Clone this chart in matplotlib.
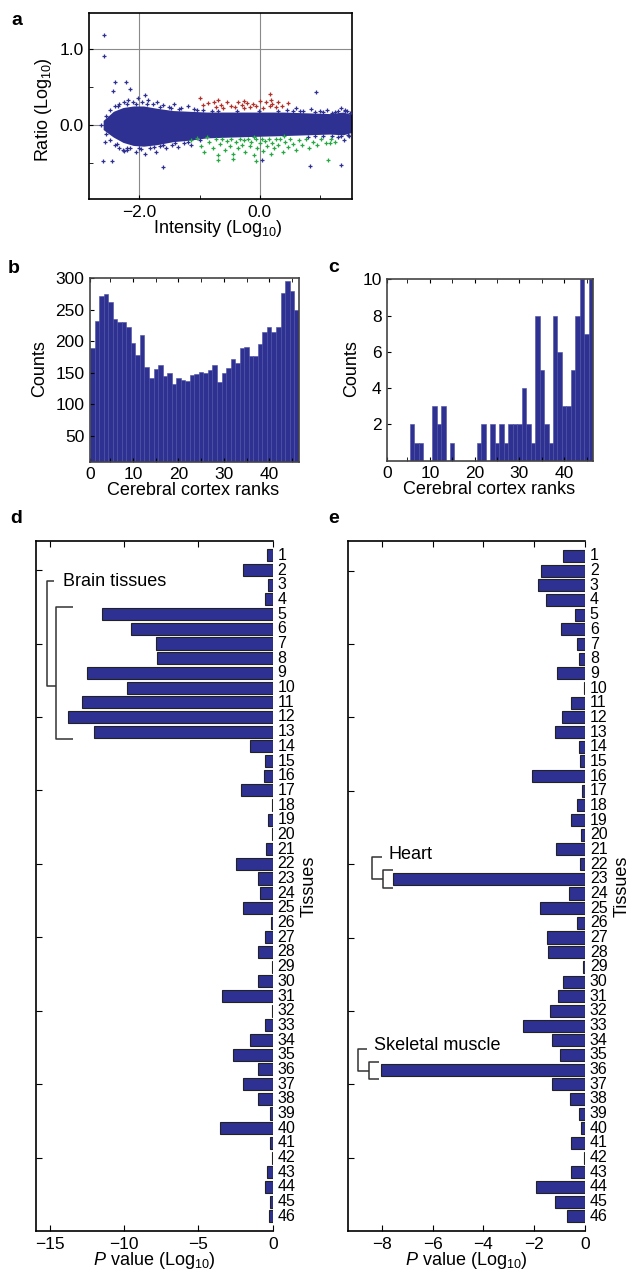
import matplotlib.pyplot as plt

plt.rcParams['font.family'] = ['Liberation Sans', 'DejaVu Sans']
plt.rcParams['mathtext.fontset'] = 'custom'
plt.rcParams['mathtext.rm'] = 'Liberation Sans'
plt.rcParams['mathtext.it'] = 'Liberation Sans:italic'
plt.rcParams['axes.linewidth'] = 1.2

NAVY = '#2e3192'
RED = '#b2322b'
GREEN = '#27a845'
INK = '#222222'

# ---------------- panel a: intensity / ratio cloud ----------------
core_x = [-2.6, -2.5, -2.43, -2.27, -2.1, -1.93, -1.71, -1.44, -1.16, -0.88, -0.5, -0.06, 0.39, 0.77, 1.16, 1.38, 1.52]
core_hi = [0.06, 0.13, 0.18, 0.23, 0.25, 0.25, 0.22, 0.19, 0.18, 0.17, 0.17, 0.17, 0.17, 0.16, 0.15, 0.17, 0.14]
core_lo = [-0.06, -0.12, -0.16, -0.23, -0.27, -0.28, -0.26, -0.22, -0.2, -0.17, -0.16, -0.15, -0.14, -0.13, -0.12, -0.13, -0.1]

fringe_x = [-2.55, -2.48, -2.4, -2.33, -2.25, -2.18, -2.1, -2.02, -1.95, -1.85, -1.78, -1.7, -1.6, -1.5,
            -1.42, -1.3, -1.2, -1.1, -0.95, -0.8, 0.45, 0.6, 0.72, 0.85, 1.0, 1.12, 1.25, 1.35, 1.45,
            -2.55, -2.48, -2.4, -2.33, -2.25, -2.15, -2.05, -1.98, -1.9, -1.82, -1.72, -1.65, -1.55,
            -1.45, -1.35, -1.25, -1.15, 1.3, 1.4, 1.48,
            -2.36, -2.2, -2.05, -1.88, -1.66, -1.48, -1.34, -1.04, -0.7, -0.38, -0.02, 0.3, 0.55, 0.66,
            0.92, 1.05, 1.2, 1.3, 1.42, 1.5,
            -2.37, -2.2, -2.0, -1.76, -1.6, -1.4, -1.2, -1.0, 0.8, 0.92, 1.05, 1.2, 1.34, 1.46]
fringe_y = [0.12, 0.2, 0.25, 0.28, 0.3, 0.33, 0.3, 0.36, 0.3, 0.33, 0.27, 0.3, 0.26, 0.24,
            0.28, 0.22, 0.25, 0.21, 0.2, 0.19, 0.2, 0.22, 0.19, 0.21, 0.18, 0.2, 0.17, 0.22, 0.18,
            -0.12, -0.2, -0.27, -0.3, -0.34, -0.3, -0.36, -0.32, -0.38, -0.3, -0.35, -0.28, -0.3,
            -0.26, -0.29, -0.24, -0.27, -0.16, -0.2, -0.15,
            0.25, 0.27, 0.28, 0.27, 0.24, 0.22, 0.21, 0.2, 0.19, 0.19, 0.19, 0.19, 0.18, 0.18,
            0.17, 0.17, 0.16, 0.18, 0.19, 0.16,
            -0.25, -0.3, -0.31, -0.29, -0.26, -0.24, -0.23, -0.2, -0.16, -0.15, -0.15, -0.14, -0.15, -0.13]

outlier_x = [-2.58, -2.59, -2.4, -2.44, -2.22, -2.16, -1.91, 0.94, -2.63, -2.57, -2.27, -2.6, -2.46,
             -1.6, 0.03, 0.83, 1.35, 1.41, -2.21]
outlier_y = [1.18, 0.91, 0.56, 0.45, 0.56, 0.47, 0.4, 0.44, 0.0, -0.22, -0.33, -0.48, -0.48,
             -0.55, -0.46, -0.54, -0.53, 0.2, -0.33]

up_x = [-0.94, -0.86, -0.76, -0.72, -0.65, -0.61, -0.55, -0.47, -0.41, -0.36, -0.3, -0.26, -0.22, -0.17,
        -0.11, -0.06, 0.0, 0.05, 0.11, 0.17, 0.21, 0.27, 0.3, 0.36, -0.69, -0.27, 0.19, 0.47, 0.17, -1.0]
up_y = [0.26, 0.29, 0.3, 0.24, 0.26, 0.22, 0.3, 0.25, 0.24, 0.3, 0.26, 0.22, 0.29, 0.24,
        0.28, 0.25, 0.31, 0.22, 0.3, 0.25, 0.28, 0.24, 0.3, 0.25, 0.33, 0.32, 0.33, 0.29, 0.41, 0.36]

down_x = [-0.98, -0.92, -0.85, -0.78, -0.72, -0.7, -0.66, -0.62, -0.58, -0.55, -0.5, -0.47, -0.44, -0.4,
          -0.36, -0.33, -0.3, -0.27, -0.24, -0.2, -0.17, -0.14, -0.1, -0.07, -0.04, 0.0, 0.03, 0.06,
          0.09, 0.12, 0.15, 0.18, 0.21, 0.24, 0.27, 0.3, 0.34, 0.38, 0.42, 0.46, 0.5, 0.55, 0.6, 0.65,
          0.7, 0.76, 0.82, 0.88, 0.95, 1.02, 1.1, 1.18, 1.25, -1.15, -1.05, -0.88, -0.1, 0.4,
          -0.69, -0.44, -0.07, 1.13, 1.16]
down_y = [-0.28, -0.36, -0.22, -0.3, -0.18, -0.4, -0.25, -0.18, -0.33, -0.21, -0.28, -0.19, -0.38, -0.23,
          -0.31, -0.18, -0.26, -0.2, -0.35, -0.19, -0.28, -0.22, -0.4, -0.19, -0.3, -0.24, -0.18, -0.34,
          -0.21, -0.28, -0.18, -0.38, -0.24, -0.31, -0.19, -0.27, -0.18, -0.35, -0.22, -0.29, -0.18, -0.25,
          -0.33, -0.2, -0.27, -0.18, -0.3, -0.22, -0.26, -0.19, -0.24, -0.18, -0.22, -0.2, -0.17, -0.16,
          -0.16, -0.15, -0.46, -0.45, -0.48, -0.46, -0.24]

# ---------------- panels b, c: rank histograms ----------------
ranks = list(range(1, 47))
all_counts = [189, 233, 272, 275, 262, 235, 230, 231, 222, 197, 178, 210, 159, 142, 156, 162, 145, 149,
              132, 142, 139, 137, 146, 148, 151, 149, 154, 163, 136, 150, 158, 172, 165, 189, 191, 176,
              177, 196, 215, 223, 215, 223, 277, 296, 280, 249]
sig_counts = [0, 0, 0, 0, 0, 2, 1, 1, 0, 0, 3, 2, 3, 0, 1, 0, 0, 0, 0, 0, 1, 2, 0, 2, 1, 2, 1, 2, 2, 2,
              4, 2, 1, 8, 5, 2, 1, 8, 6, 3, 3, 5, 8, 10, 7, 10]

# ---------------- panels d, e: tissue P values ----------------
tissues = list(range(1, 47))
pval_up = [-0.36, -1.98, -0.29, -0.49, -11.5, -9.51, -7.83, -7.76, -12.53, -9.82, -12.85, -13.81, -12.06,
           -1.53, -0.49, -0.56, -2.11, -0.05, -0.29, -0.03, -0.43, -2.47, -1.01, -0.83, -1.98, -0.12,
           -0.49, -0.96, -0.05, -0.96, -3.39, -0.03, -0.49, -1.53, -2.69, -1.01, -1.98, -1.01, -0.18,
           -3.52, -0.16, -0.03, -0.40, -0.49, -0.18, -0.25]
pval_down = [-0.85, -1.72, -1.84, -1.54, -0.38, -0.93, -0.30, -0.25, -1.10, -0.05, -0.55, -0.89, -1.19,
             -0.25, -0.21, -2.10, -0.10, -0.30, -0.55, -0.17, -1.15, -0.21, -7.55, -0.63, -1.76, -0.30,
             -1.50, -1.44, -0.09, -0.88, -1.05, -1.37, -2.44, -1.29, -0.97, -8.04, -1.29, -0.60, -0.25,
             -0.17, -0.55, -0.02, -0.55, -1.93, -1.17, -0.72]

W, H = 629, 1279


def box(l, t, r, b):
    """pixel box -> figure fraction rect"""
    return [l / W, 1 - b / H, (r - l) / W, (b - t) / H]


fig = plt.figure(figsize=(6.29, 12.79), dpi=100)

# panel letters
for letter, px, py in [('a', 11, 25), ('b', 8, 273), ('c', 328, 272), ('d', 10, 523), ('e', 328, 523)]:
    fig.text(px / W, 1 - py / H, letter, fontsize=14, fontweight='bold', va='baseline', ha='left')

# ---- a
axa = fig.add_axes(box(89.3, 12.7, 352, 199.3))
axa.fill_between(core_x, core_lo, core_hi, color=NAVY, lw=0, zorder=2)
axa.plot(fringe_x, fringe_y, '+', color=NAVY, ms=3.5, mew=0.9, zorder=3)
axa.plot(outlier_x, outlier_y, '+', color=NAVY, ms=3.5, mew=0.9, zorder=3)
axa.plot(up_x, up_y, '+', color=RED, ms=3.5, mew=0.9, zorder=3)
axa.plot(down_x, down_y, '+', color=GREEN, ms=3.5, mew=0.9, zorder=3)
axa.set_xlim(-2.83, 1.53)
axa.set_ylim(-0.98, 1.48)
axa.set_xticks([-2, 0])
axa.set_xticklabels(['\u22122.0', '0.0'])
axa.set_xticks([-1, 1], minor=True)
axa.set_yticks([0, 1])
axa.set_yticklabels(['0.0', '1.0'])
axa.set_yticks([-0.5, 0.5], minor=True)
axa.grid(True, which='major', color='#8a8a8a', lw=0.8, zorder=1)
axa.set_axisbelow(True)
axa.tick_params(which='both', direction='in', labelsize=12.5, length=3, pad=4)
axa.set_xlabel('Intensity (Log$_{10}$)', fontsize=13)
axa.set_ylabel('Ratio (Log$_{10}$)', fontsize=13)
axa.xaxis.set_label_coords(0.49, -0.1)
axa.yaxis.set_label_coords(-0.135, 0.48)

# ---- b and c
for rect, counts, ylim, yticks, ylab_x in [(box(90, 278.3, 298.7, 461.7), all_counts, (9, 300), [50, 100, 150, 200, 250, 300], -0.2),
                                           (box(387.3, 279.3, 593.3, 460.7), sig_counts, (0, 10), [2, 4, 6, 8, 10], -0.13)]:
    ax = fig.add_axes(rect)
    ax.bar(ranks, counts, width=1.0, color=NAVY, edgecolor='#4a4ea0', linewidth=0.4)
    ax.set_xlim(0.5, 46.5)
    ax.set_ylim(*ylim)
    ax.set_yticks(yticks)
    ax.set_xticks([0.5, 10, 20, 30, 40])
    ax.set_xticklabels(['0', '10', '20', '30', '40'])
    ax.set_xticks([5, 15, 25, 35, 45], minor=True)
    ax.tick_params(which='both', direction='in', top=True, labelsize=12.5, length=3, pad=4)
    for s in ax.spines.values():
        s.set_color('#444444')
    ax.set_xlabel('Cerebral cortex ranks', fontsize=13)
    ax.set_ylabel('Counts', fontsize=13)
    ax.xaxis.set_label_coords(0.495, -0.11)
    ax.yaxis.set_label_coords(ylab_x, 0.51)

# ---- d and e
axd = fig.add_axes(box(35.7, 540.7, 272.7, 1231))
axe = fig.add_axes(box(347.7, 541.3, 585, 1231))
for ax, vals, xlim, xticks in [(axd, pval_up, (-15.96, 0), [-15, -10, -5, 0]),
                               (axe, pval_down, (-9.34, 0), [-8, -6, -4, -2, 0])]:
    ax.barh(tissues, vals, height=0.82, color=NAVY, edgecolor=INK, linewidth=0.8)
    ax.set_xlim(*xlim)
    ax.set_ylim(47, 0)
    ax.spines['right'].set_visible(False)
    ax.set_xticks(xticks)
    ax.set_xticklabels([('\u2212' + str(-t)) if t < 0 else '0' for t in xticks])
    ax.set_yticks([2, 7, 12, 17, 22, 27, 32, 37, 42])
    ax.tick_params(axis='y', direction='in', labelleft=False, length=4)
    ax.tick_params(axis='x', direction='in', top=True, labelsize=12.5, length=4, pad=4)
    for t in tissues:
        ax.annotate(str(t), xy=(0, t), xytext=(3.5, 0), textcoords='offset points',
                    ha='left', va='center', fontsize=11.5, annotation_clip=False)
    ax.text(1.155, 0.5, 'Tissues', transform=ax.transAxes, rotation=90,
            ha='center', va='center', fontsize=13)
    ax.set_xlabel('$P$ value (Log$_{10}$)', fontsize=13)
    ax.xaxis.set_label_coords(0.5, -0.028)


def bracket(ax, pts):
    xs, ys = zip(*pts)
    ax.plot(xs, ys, color='#333333', lw=1.1, clip_on=False, solid_capstyle='butt')


bracket(axd, [(-14.75, 2.77), (-15.2, 2.77), (-15.2, 9.92), (-14.59, 9.92)])
bracket(axd, [(-13.48, 4.52), (-14.59, 4.52), (-14.59, 13.51), (-13.48, 13.51)])
axd.text(-14.15, 2.77, 'Brain tissues', ha='left', va='center', fontsize=13)

bracket(axe, [(-8.0, 21.5), (-8.37, 21.5), (-8.37, 23.02), (-7.94, 23.02)])
bracket(axe, [(-7.57, 22.39), (-7.94, 22.39), (-7.94, 23.6), (-7.57, 23.6)])
axe.text(-7.74, 21.32, 'Heart', ha='left', va='center', fontsize=13)

bracket(axe, [(-8.59, 34.6), (-8.93, 34.6), (-8.93, 36.13), (-8.5, 36.13)])
bracket(axe, [(-8.1, 35.45), (-8.5, 35.45), (-8.5, 36.65), (-8.1, 36.65)])
axe.text(-8.3, 34.38, 'Skeletal muscle', ha='left', va='center', fontsize=13)

fig.savefig('out.png', dpi=100)
